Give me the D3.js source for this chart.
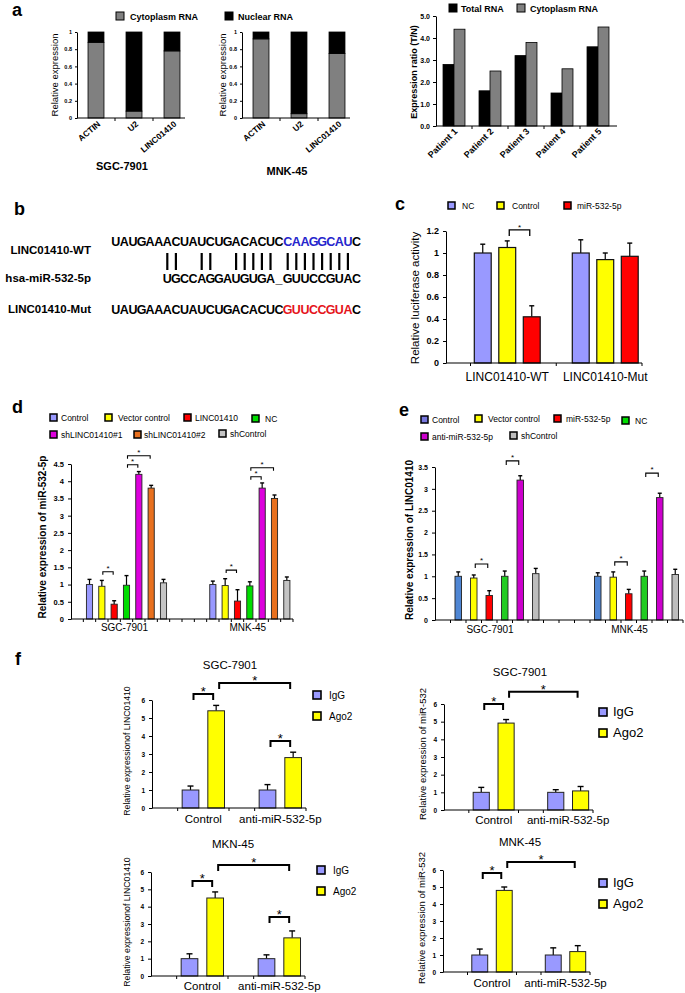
<!DOCTYPE html>
<html><head><meta charset="utf-8">
<script src="https://cdn.jsdelivr.net/npm/d3@7"></script>
<style>body{margin:0;background:#fff}svg text{font-family:"Liberation Sans",Arial,Helvetica,sans-serif}</style>
</head><body><svg id="fig" width="685" height="993"></svg>
<script>
// ================= DATA =================
// panel a
const aCellLines = ["SGC-7901","MNK-45"];
const aCategories = ["ACTIN","U2","LINC01410"];
const aSeries = ["Cytoplasm RNA","Nuclear RNA"];
const aSGCCytoplasm = [0.88,0.08,0.78];
const aSGCNuclear   = [0.12,0.92,0.22];
const aMNKCytoplasm = [0.92,0.05,0.75];
const aMNKNuclear   = [0.08,0.95,0.25];
const aYTicks = [0,0.2,0.4,0.6,0.8,1];
const patients = ["Patient 1","Patient 2","Patient 3","Patient 4","Patient 5"];
const ratioSeries = ["Total RNA","Cytoplasm RNA"];
const totalRNA = [2.8,1.6,3.2,1.5,3.6];
const cytoplasmRNA = [4.4,2.5,3.8,2.6,4.5];
const ratioTicks = [0,1,2,3,4,5];
// panel b
const bLabels = ["LINC01410-WT","hsa-miR-532-5p","LINC01410-Mut"];
const seqWT  = "UAUGAAACUAUCUGACACUCCAAGGCAUC";
const seqMiR = "UGCCAGGAUGUGA_GUUCCGUAC";
const seqMut = "UAUGAAACUAUCUGACACUCGUUCCGUAC";
const siteStart = 20, siteEnd = 28;   // highlighted site (chars 20..27)
const miROffset = 6;                  // miR char i pairs with WT char i+6
const pairedMiR = [0,1,4,5,8,9,10,11,12,14,15,16,17,18,19,20,21];
// panel c
const cGroups = ["LINC01410-WT","LINC01410-Mut"];
const cSeries = ["NC","Control","miR-532-5p"];
const cValues = [[1.0,1.05,0.42],[1.0,0.94,0.97]];
const cErrors = [[0.08,0.06,0.10],[0.12,0.06,0.12]];
const cTicks = [0,0.2,0.4,0.6,0.8,1,1.2];
const cSig = [[0,1,0,2,1.21]];
// panel d
const dGroups = ["SGC-7901","MNK-45"];
const dSeries = ["Control","Vector control","LINC01410","NC","shLINC01410#1","shLINC01410#2","shControl"];
const dValues = [[1.0,0.95,0.43,0.98,4.2,3.8,1.05],[1.0,0.97,0.52,0.96,3.8,3.5,1.12]];
const dErrors = [[0.15,0.17,0.10,0.28,0.08,0.08,0.10],[0.10,0.20,0.33,0.12,0.15,0.10,0.10]];
const dTicks = [0,0.5,1,1.5,2,2.5,3,3.5,4,4.5];
const dSig = [[0,1,0,2,1.37],[0,3,0,4,4.48],[0,3,0,5,4.74],[1,1,1,2,1.42],[1,3,1,4,4.13],[1,3,1,5,4.39]];
// panel e
const eGroups = ["SGC-7901","MNK-45"];
const eSeries = ["Control","Vector control","miR-532-5p","NC","anti-miR-532-5p","shControl"];
const eValues = [[1.0,0.96,0.56,1.0,3.2,1.06],[1.0,0.98,0.60,1.0,2.8,1.04]];
const eErrors = [[0.10,0.07,0.11,0.12,0.10,0.12],[0.08,0.12,0.10,0.12,0.10,0.12]];
const eTicks = [0,0.5,1,1.5,2,2.5,3,3.5];
const eSig = [[0,1,0,2,1.28],[0,3,0,4,3.64],[1,1,1,2,1.33],[1,3,1,4,3.36]];
// panel f
const fGroups = ["Control","anti-miR-532-5p"];
const fSeries = ["IgG","Ago2"];
const fTicks = [0,1,2,3,4,5,6];
const fTitles = ["SGC-7901","SGC-7901","MKN-45","MNK-45"];
const fYLabels = ["Relative expressionof LINC01410","Relative expression of miR-532","Relative expressionof LINC01410","Relative expression of miR-532"];
const f1Values = [[1.0,5.4],[1.0,2.8]],  f1Errors = [[0.22,0.30],[0.30,0.30]];
const f2Values = [[1.0,4.92],[1.0,1.08]], f2Errors = [[0.28,0.20],[0.15,0.25]];
const f3Values = [[1.0,4.5],[1.0,2.2]],  f3Errors = [[0.28,0.35],[0.22,0.40]];
const f4Values = [[1.0,4.8],[1.0,1.2]],  f4Errors = [[0.35,0.20],[0.42,0.35]];
const f1Sig = [[0,0,0,1,6.33],[0,1,1,1,6.94],[1,0,1,1,3.72]];
const f2Sig = [[0,0,0,1,6.0],[0,1,1,1,6.7]];
const f3Sig = [[0,0,0,1,5.48],[0,1,1,1,6.4],[1,0,1,1,3.4]];
const f4Sig = [[0,0,0,1,5.82],[0,1,1,1,6.47]];

// ================= DRAWING =================
const svg = d3.select("#fig");
svg.append("rect").attr("width",685).attr("height",993).attr("fill","#fff");
const FONT = "'Liberation Sans', Arial, Helvetica, sans-serif";

function txt(p, x, y, s, o = {}) {
  const t = p.append("text").attr("x", x).attr("y", y).text(s)
    .attr("font-size", o.size || 10).attr("font-weight", o.bold ? "bold" : "normal")
    .attr("text-anchor", o.anchor || "start").attr("fill", o.fill || "#000")
    .attr("font-family", FONT);
  if (o.rotate != null) t.attr("transform", `rotate(${o.rotate},${x},${y})`);
  return t;
}
function styleAxis(sel, fs, bold) {
  sel.attr("font-family", FONT);
  sel.select(".domain").attr("stroke", "#000").attr("stroke-width", 1);
  sel.selectAll(".tick line").attr("stroke", "#000");
  sel.selectAll(".tick text").attr("font-size", fs).attr("font-weight", bold ? "bold" : "normal").attr("fill", "#000");
}
function legendItem(p, x, y, label, color, o) {
  p.append("rect").attr("x", x).attr("y", y).attr("width", o.sq).attr("height", o.sq)
    .attr("fill", color).attr("stroke", "#000").attr("stroke-width", o.sw || 1.5);
  txt(p, x + o.sq + o.dx, y + o.sq + (o.dy || 0), label, { size: o.fs, bold: o.bold });
}

// ---------- panel letters ----------
txt(svg, 12, 16, "a", { size: 18, bold: true });
txt(svg, 14, 215, "b", { size: 18, bold: true });
txt(svg, 395, 210, "c", { size: 18, bold: true });
txt(svg, 12, 413, "d", { size: 18, bold: true });
txt(svg, 399, 416, "e", { size: 18, bold: true });
txt(svg, 15, 665, "f", { size: 18, bold: true });

// ---------- panel a: stacked ----------
const aColors = ["#808080", "#000000"];
legendItem(svg, 116, 12, aSeries[0], aColors[0], { sq: 8, dx: 6, fs: 9, bold: true, sw: 1 });
legendItem(svg, 225, 12, aSeries[1], aColors[1], { sq: 8, dx: 5, fs: 9, bold: true, sw: 1 });

function stackedChart(x0, cyto, nuc, title, titleY, ylabX) {
  const g = svg.append("g");
  const x = d3.scaleBand().domain(aCategories).range([x0, x0 + 114]).paddingInner(0.58).paddingOuter(0.29);
  const y = d3.scaleLinear().domain([0, 1]).range([118, 32]);
  const rows = aCategories.map((c, i) => ({ cat: c, cyto: cyto[i], nuc: nuc[i] }));
  const layers = d3.stack().keys(["cyto", "nuc"])(rows);
  layers.forEach((layer, li) => {
    g.selectAll(null).data(layer).join("rect")
      .attr("x", d => x(d.data.cat)).attr("width", x.bandwidth())
      .attr("y", d => y(d[1])).attr("height", d => y(d[0]) - y(d[1]))
      .attr("fill", aColors[li]).attr("stroke", "#000").attr("stroke-width", 0.8);
  });
  const ya = g.append("g").attr("transform", `translate(${x0},0)`)
    .call(d3.axisLeft(y).tickValues(aYTicks).tickFormat(d => String(d)).tickSize(2).tickSizeOuter(0).tickPadding(3));
  styleAxis(ya, 5.5, true);
  g.append("line").attr("x1", x0).attr("x2", x0 + 108).attr("y1", 118).attr("y2", 118).attr("stroke", "#000");
  aCategories.slice(1).forEach(c => {
    const xb = x(c) - x.step() * x.paddingInner() / 2;
    g.append("line").attr("x1", xb).attr("x2", xb).attr("y1", 118).attr("y2", 121).attr("stroke", "#000");
  });
  aCategories.forEach(c => {
    const cx = x(c) + x.bandwidth() / 2 + 5;
    txt(g, cx, 125, c, { size: 8.5, bold: true, anchor: "end", rotate: -40 });
  });
  txt(g, ylabX, 75, "Relative expression", { size: 9.5, anchor: "middle", rotate: -90 });
  txt(g, x0 + 45, titleY, title, { size: 11, bold: true, anchor: "middle" });
}
stackedChart(77, aSGCCytoplasm, aSGCNuclear, aCellLines[0], 170, 58);
stackedChart(242, aMNKCytoplasm, aMNKNuclear, aCellLines[1], 175, 226);

// ---------- panel a: patients ----------
(function () {
  const g = svg.append("g");
  const ratioColors = ["#000000", "#808080"];
  legendItem(g, 449, 4, ratioSeries[0], ratioColors[0], { sq: 8, dx: 4, fs: 9, bold: true, sw: 1 });
  legendItem(g, 517, 4, ratioSeries[1], ratioColors[1], { sq: 8, dx: 5, fs: 9, bold: true, sw: 1 });
  const x0 = d3.scaleBand().domain(patients).range([436, 616]);
  const x1 = d3.scaleBand().domain(ratioSeries).range([0, x0.bandwidth()]).paddingOuter(0.64);
  const y = d3.scaleLinear().domain([0, 5]).range([126, 16]);
  const vals = [totalRNA, cytoplasmRNA];
  ratioSeries.forEach((s, si) => {
    g.selectAll(null).data(patients).join("rect")
      .attr("x", p => x0(p) + x1(s)).attr("width", x1.bandwidth())
      .attr("y", (p, i) => y(vals[si][i])).attr("height", (p, i) => y(0) - y(vals[si][i]))
      .attr("fill", ratioColors[si]).attr("stroke", "#000").attr("stroke-width", 0.8);
  });
  const ya = g.append("g").attr("transform", "translate(436,0)")
    .call(d3.axisLeft(y).tickValues(ratioTicks).tickSize(3).tickSizeOuter(0).tickPadding(3));
  styleAxis(ya, 7, true);
  g.append("line").attr("x1", 436).attr("x2", 617).attr("y1", 126).attr("y2", 126).attr("stroke", "#000");
  patients.slice(1).forEach(p => {
    g.append("line").attr("x1", x0(p)).attr("x2", x0(p)).attr("y1", 126).attr("y2", 129).attr("stroke", "#000");
  });
  patients.forEach(p => {
    const cx = x0(p) + x0.bandwidth() / 2 + 4;
    txt(g, cx, 132, p, { size: 9, bold: true, anchor: "end", rotate: -45 });
  });
  txt(g, 417, 72, "Expression ratio (T/N)", { size: 9, bold: true, anchor: "middle", rotate: -90 });
})();

// ---------- panel b: sequences ----------
(function () {
  const g = svg.append("g");
  const step = 8.6, sx = 111.4;
  const baselines = [246, 283, 314];
  const labelBase = [254, 282, 313];
  bLabels.forEach((l, i) => txt(g, 91, labelBase[i], l, { size: 11.5, bold: true, anchor: "end" }));
  const drawSeq = (seq, off, yb, hiColor) => {
    seq.split("").forEach((ch, i) => {
      const hi = hiColor && (i + off) >= siteStart && (i + off) < siteEnd;
      txt(g, sx + step * (i + off + 0.5), yb, ch, { size: 12.5, bold: true, anchor: "middle", fill: hi ? hiColor : "#000" });
    });
  };
  drawSeq(seqWT, 0, baselines[0], "#2525cc");
  drawSeq(seqMiR, miROffset, baselines[1], null);
  drawSeq(seqMut, 0, baselines[2], "#e5141b");
  pairedMiR.forEach(i => {
    const xx = sx + step * (i + miROffset + 0.5);
    g.append("line").attr("x1", xx).attr("x2", xx).attr("y1", 253).attr("y2", 270).attr("stroke", "#000").attr("stroke-width", 2.2);
  });
})();

// ---------- generic grouped bar chart ----------
function groupedChart(c) {
  const g = svg.append("g");
  const slots = [];
  for (let k = 0; k < c.lead; k++) slots.push("lead" + k);
  c.groups.forEach((gr, gi) => {
    if (gi > 0) for (let k = 0; k < c.gap; k++) slots.push("gap" + gi + "_" + k);
    c.series.forEach((s, si) => slots.push(gi + "|" + si));
  });
  const x = d3.scaleBand().domain(slots).range([c.x0, c.x1]).paddingInner(c.pad).paddingOuter(c.pad / 2);
  const y = d3.scaleLinear().domain([0, c.yMax]).range([c.y0, c.yTop]);
  const cx = (gi, si) => x(gi + "|" + si) + x.bandwidth() / 2;
  const rows = [];
  c.groups.forEach((gr, gi) => c.series.forEach((s, si) => rows.push({ gi, si, v: c.values[gi][si], e: c.errors[gi][si] })));
  // error bars
  rows.forEach(d => {
    const xx = cx(d.gi, d.si);
    g.append("line").attr("x1", xx).attr("x2", xx).attr("y1", y(d.v)).attr("y2", y(d.v + d.e)).attr("stroke", "#000").attr("stroke-width", 1.2);
    g.append("line").attr("x1", xx - c.cap / 2).attr("x2", xx + c.cap / 2).attr("y1", y(d.v + d.e)).attr("y2", y(d.v + d.e)).attr("stroke", "#000").attr("stroke-width", 1.4);
  });
  g.selectAll(null).data(rows).join("rect")
    .attr("x", d => x(d.gi + "|" + d.si)).attr("width", x.bandwidth())
    .attr("y", d => y(d.v)).attr("height", d => c.y0 - y(d.v))
    .attr("fill", d => c.colors[d.si]).attr("stroke", c.stroke || "#222").attr("stroke-width", c.sw || 1);
  // axes
  const ya = g.append("g").attr("transform", `translate(${c.x0},0)`)
    .call(d3.axisLeft(y).tickValues(c.ticks).tickFormat(d => String(d)).tickSize(3).tickSizeOuter(0).tickPadding(c.tickPad || 4));
  styleAxis(ya, c.tickFs, true);
  g.append("line").attr("x1", c.x0).attr("x2", c.x1).attr("y1", c.y0).attr("y2", c.y0).attr("stroke", "#000").attr("stroke-width", 1.2);
  c.xTicks.forEach(k => {
    const xx = c.x0 + k * x.step();
    g.append("line").attr("x1", xx).attr("x2", xx).attr("y1", c.y0).attr("y2", c.y0 + 3).attr("stroke", "#000");
  });
  // group labels
  c.groups.forEach((gr, gi) => {
    const mid = (cx(gi, 0) + cx(gi, c.series.length - 1)) / 2;
    txt(g, mid + (c.labelShift || 0), c.labelY, gr, { size: c.labelFs, anchor: "middle" });
  });
  // significance brackets
  c.sig.forEach(b => {
    const xa = cx(b[0], b[1]) + c.inset, xb = cx(b[2], b[3]) - c.inset, yy = y(b[4]);
    g.append("path").attr("d", `M${xa},${yy + c.leg}V${yy}H${xb}V${yy + c.leg}`)
      .attr("fill", "none").attr("stroke", "#000").attr("stroke-width", c.bw || 1.3);
    txt(g, (xa + xb) / 2, yy - c.starDy, "*", { size: c.starFs, anchor: "middle" });
  });
  txt(g, c.ylx, c.yly, c.ylabel, { size: c.ylFs, bold: c.ylBold, anchor: "middle", rotate: -90 });
  if (c.title) txt(g, c.titleX, c.titleY, c.title, { size: c.titleFs, anchor: "middle" });
  return { x, y };
}

// ---------- panel c ----------
const cColors = ["#9999ff", "#ffff00", "#ff0000"];
legendItem(svg, 448, 202, cSeries[0], cColors[0], { sq: 7, dx: 7, fs: 8.5 });
legendItem(svg, 497, 202, cSeries[1], cColors[1], { sq: 7, dx: 8, fs: 8.5 });
legendItem(svg, 564, 202, cSeries[2], cColors[2], { sq: 7, dx: 6, fs: 8.5 });
groupedChart({
  groups: cGroups, series: cSeries, values: cValues, errors: cErrors, colors: cColors,
  x0: 446, x1: 642, lead: 1, gap: 1, pad: 0.31, y0: 363, yTop: 231, yMax: 1.2, ticks: cTicks, tickFs: 9,
  xTicks: [1, 4.5, 8], labelY: 381, labelFs: 12, cap: 5, stroke: "#111", sw: 1.2,
  sig: cSig, inset: 2, leg: 6, starDy: 0, starFs: 8,
  ylabel: "Relative luciferase activity", ylx: 419, yly: 298, ylFs: 11.5, ylBold: false
});

// ---------- panel d ----------
const dColors = ["#9999ff", "#ffff00", "#ff0000", "#00dd00", "#dd00dd", "#e8701e", "#c4c4c4"];
(function () {
  const o = { sq: 7, dx: 4, fs: 8.5 };
  legendItem(svg, 50, 414, dSeries[0], dColors[0], o);
  legendItem(svg, 105, 414, dSeries[1], dColors[1], { sq: 7, dx: 6, fs: 8.5 });
  legendItem(svg, 184, 414, dSeries[2], dColors[2], o);
  legendItem(svg, 252, 415, dSeries[3], dColors[3], { sq: 7, dx: 6, fs: 8.5 });
  legendItem(svg, 50, 431, dSeries[4], dColors[4], o);
  legendItem(svg, 134, 431, dSeries[5], dColors[5], { sq: 7, dx: 3, fs: 8.5 });
  legendItem(svg, 219, 430, dSeries[6], dColors[6], { sq: 7, dx: 4, fs: 8.5 });
})();
groupedChart({
  groups: dGroups, series: dSeries, values: dValues, errors: dErrors, colors: dColors,
  x0: 71, x1: 293, lead: 1, gap: 3, pad: 0.5, y0: 619, yTop: 464, yMax: 4.5, ticks: dTicks, tickFs: 7.5,
  xTicks: d3.range(1, 19), labelY: 631, labelFs: 10, labelShift: -2, cap: 4, stroke: "#222", sw: 0.9,
  sig: dSig, inset: 1, leg: 3, starDy: 1, starFs: 8, bw: 1.1,
  ylabel: "Relative expression of miR-532-5p", ylx: 46, yly: 537, ylFs: 10, ylBold: true
});

// ---------- panel e ----------
const eColors = ["#4f86d4", "#ffff00", "#ff0000", "#22cc22", "#cc00cc", "#bdbdbd"];
const eLegendColors = ["#7777dd", "#ffff00", "#ff0000", "#00dd00", "#cc00cc", "#bdbdbd"];
(function () {
  legendItem(svg, 421, 416, eSeries[0], eLegendColors[0], { sq: 7, dx: 4, fs: 8.5 });
  legendItem(svg, 475, 415, eSeries[1], eLegendColors[1], { sq: 7, dx: 6, fs: 8.5 });
  legendItem(svg, 554, 415, eSeries[2], eLegendColors[2], { sq: 7, dx: 5, fs: 8.5 });
  legendItem(svg, 622, 417, eSeries[3], eLegendColors[3], { sq: 7, dx: 6, fs: 8.5 });
  legendItem(svg, 421, 433, eSeries[4], eLegendColors[4], { sq: 7, dx: 4, fs: 8.5 });
  legendItem(svg, 510, 432, eSeries[5], eLegendColors[5], { sq: 7, dx: 4, fs: 8.5 });
})();
groupedChart({
  groups: eGroups, series: eSeries, values: eValues, errors: eErrors, colors: eColors,
  x0: 435, x1: 683, lead: 1, gap: 3, pad: 0.58, y0: 620, yTop: 467, yMax: 3.5, ticks: eTicks, tickFs: 7,
  xTicks: d3.range(1, 17), labelY: 633, labelFs: 10, labelShift: -7, cap: 4, stroke: "#222", sw: 0.9,
  sig: eSig, inset: 1.5, leg: 4, starDy: 1, starFs: 8, bw: 1.1,
  ylabel: "Relative expression of LINC01410", ylx: 413, yly: 540, ylFs: 10, ylBold: true
});

// ---------- panel f ----------
const fColors = ["#9999ff", "#ffff00"];
function fChart(vals, errs, sig, ylabel, title, L) {
  groupedChart({
    groups: fGroups, series: fSeries, values: vals, errors: errs, colors: fColors,
    x0: L.x0, x1: L.x1, lead: 1, gap: 1, pad: 0.35, y0: L.y0, yTop: L.yTop, yMax: 6, ticks: fTicks, tickFs: 6.5,
    xTicks: [1, 3, 4, 6], labelY: L.labY, labelFs: 11.5, cap: 6, stroke: "#222", sw: 1,
    sig: sig, inset: 3, leg: 6, starDy: -2, starFs: 13, bw: 2,
    ylabel: ylabel, ylx: L.ylx, yly: L.yly, ylFs: L.ylFs, ylBold: false,
    title: title, titleX: L.tx, titleY: L.ty, titleFs: 11.5
  });
  legendItem(svg, L.lx, L.ly, fSeries[0], fColors[0], { sq: L.sq, dx: L.ldx, fs: L.lfs, sw: 1.6 });
  legendItem(svg, L.lx, L.ly + L.lgap, fSeries[1], fColors[1], { sq: L.sq, dx: L.ldx, fs: L.lfs, sw: 1.6 });
}
fChart(f1Values, f1Errors, f1Sig, fYLabels[0], fTitles[0],
  { x0: 152, x1: 306, y0: 808, yTop: 700, labY: 823, ylx: 130, yly: 751, ylFs: 8.7, tx: 230, ty: 669,
    lx: 313, ly: 691, sq: 8, ldx: 8, lfs: 10, lgap: 21 });
fChart(f2Values, f2Errors, f2Sig, fYLabels[1], fTitles[1],
  { x0: 444, x1: 593, y0: 810, yTop: 704, labY: 824, ylx: 426, yly: 754, ylFs: 9.5, tx: 520, ty: 676,
    lx: 599, ly: 708, sq: 8, ldx: 6, lfs: 13, lgap: 21 });
fChart(f3Values, f3Errors, f3Sig, fYLabels[2], fTitles[2],
  { x0: 151, x1: 305, y0: 976, yTop: 872, labY: 990, ylx: 130, yly: 922, ylFs: 8.7, tx: 233, ty: 848,
    lx: 317, ly: 866, sq: 8, ldx: 8, lfs: 10, lgap: 21 });
fChart(f4Values, f4Errors, f4Sig, fYLabels[3], fTitles[3],
  { x0: 443, x1: 590, y0: 972, yTop: 870, labY: 987, ylx: 425, yly: 918, ylFs: 9.5, tx: 520, ty: 846,
    lx: 599, ly: 879, sq: 8, ldx: 6, lfs: 13, lgap: 21 });
</script>
</body></html>
